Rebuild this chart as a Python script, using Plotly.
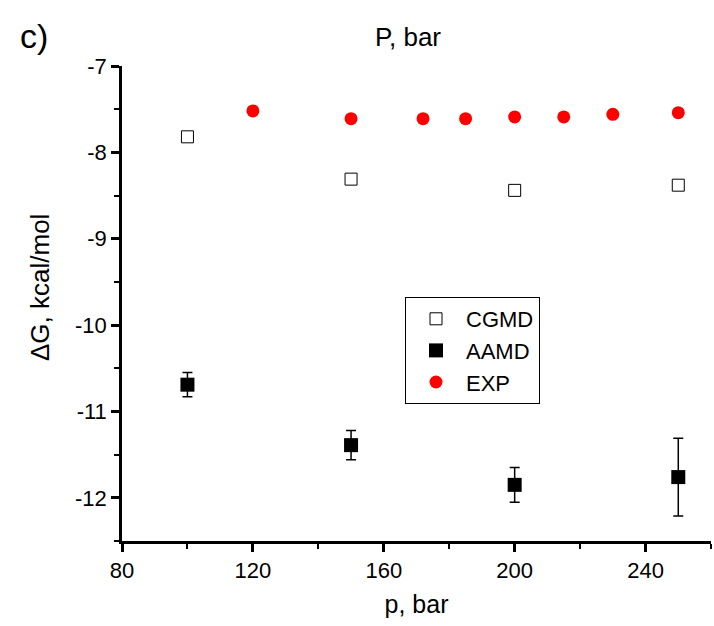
import plotly.graph_objects as go

# CGMD (open squares)
cgmd_p = [100, 150, 200, 250]
cgmd_dg = [-7.82, -8.31, -8.44, -8.38]

# AAMD (filled squares with error bars)
aamd_p = [100, 150, 200, 250]
aamd_dg = [-10.69, -11.39, -11.85, -11.76]
aamd_err = [0.14, 0.17, 0.20, 0.45]

# EXP (red circles)
exp_p = [120, 150, 172, 185, 200, 215, 230, 250]
exp_dg = [-7.52, -7.61, -7.61, -7.61, -7.59, -7.59, -7.56, -7.54]

# tick labels
x_ticks = [80, 120, 160, 200, 240]
y_ticks = [-7, -8, -9, -10, -11, -12]
y_ticktext = ["-7", "-8", "-9", "-10", "-11", "-12"]

FONT = "Liberation Sans, Arial, sans-serif"

fig = go.Figure()
fig.add_trace(go.Scatter(
    x=cgmd_p, y=cgmd_dg, mode="markers", name="CGMD",
    marker=dict(symbol="square-open", size=12, color="black", line=dict(width=1, color="black")),
))
fig.add_trace(go.Scatter(
    x=aamd_p, y=aamd_dg, mode="markers", name="AAMD",
    marker=dict(symbol="square", size=14, color="black"),
    error_y=dict(type="data", array=aamd_err, visible=True, color="black", thickness=1.5, width=5),
))
fig.add_trace(go.Scatter(
    x=exp_p, y=exp_dg, mode="markers", name="EXP",
    marker=dict(symbol="circle", size=13, color="#ff0000"),
))

pw = 714 - 122 - 3
ph = 626 - 66 - 85

def px2paper(px, py):
    return (px - 122) / pw, (626 - 85 - py) / ph

lx, ly = px2paper(405, 297)
tx, ty = px2paper(408, 37)
cx, cy = px2paper(34, 36)
yx, yy = px2paper(40, 288)

fig.update_layout(
    width=714, height=626,
    margin=dict(l=122, r=3, t=66, b=85),
    paper_bgcolor="white", plot_bgcolor="white",
    font=dict(family=FONT, color="black", size=22),
    showlegend=True,
    legend=dict(
        x=lx, y=ly, xanchor="left", yanchor="top",
        bordercolor="black", borderwidth=1, bgcolor="white",
        font=dict(size=22, family=FONT), itemwidth=50,
        tracegroupgap=0,
    ),
    xaxis=dict(
        range=[80, 260], tickvals=x_ticks,
        showline=True, linecolor="black", linewidth=2.5,
        ticks="outside", ticklen=8, tickwidth=2.5, tickcolor="black",
        showgrid=False, zeroline=False,
        tickfont=dict(size=22),
        minor=dict(dtick=20, tick0=80, ticks="outside", ticklen=5, tickwidth=2, tickcolor="black", showgrid=False),
        title=dict(text="p, bar", font=dict(size=25), standoff=14),
    ),
    yaxis=dict(
        range=[-12.5, -7], tickvals=y_ticks, ticktext=y_ticktext,
        showline=True, linecolor="black", linewidth=2.5,
        ticks="outside", ticklen=8, tickwidth=2.5, tickcolor="black",
        showgrid=False, zeroline=False,
        tickfont=dict(size=22),
        minor=dict(dtick=0.5, ticks="outside", ticklen=5, tickwidth=2, tickcolor="black", showgrid=False),
    ),
    annotations=[
        dict(text="P, bar", x=tx, y=ty, xref="paper", yref="paper", showarrow=False,
             xanchor="center", yanchor="middle", font=dict(size=26)),
        dict(text="c)", x=cx, y=cy, xref="paper", yref="paper", showarrow=False,
             xanchor="center", yanchor="middle", font=dict(size=34)),
        dict(text="ΔG, kcal/mol", x=yx, y=yy, xref="paper", yref="paper", showarrow=False,
             xanchor="center", yanchor="middle", textangle=-90, font=dict(size=26)),
    ],
)
fig.write_html("out.html")
